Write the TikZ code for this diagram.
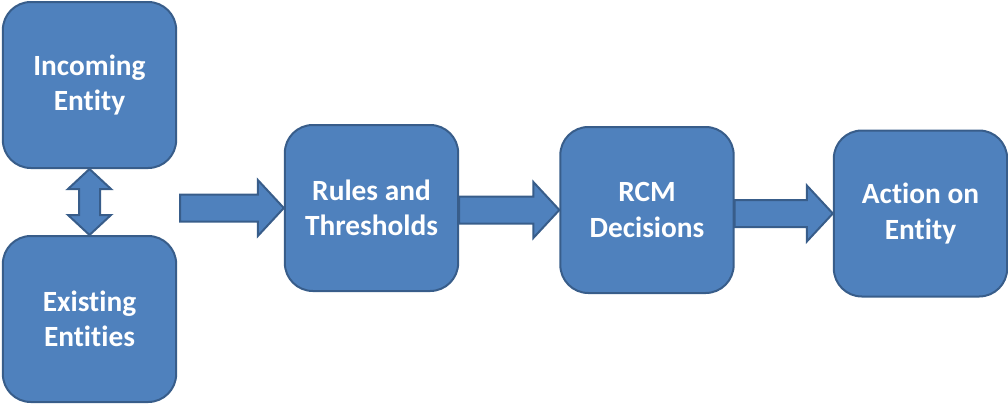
\documentclass[tikz,border=0pt]{standalone}
\usepackage{fontspec}
\setmainfont[Ligatures={NoCommon,NoRequired,NoContextual}]{Carlito}
\usetikzlibrary{calc}

\definecolor{boxfill}{HTML}{4F81BD}
\definecolor{boxline}{HTML}{385D8A}

\newcommand{\flowarrow}[2]{%
	\path[blockarrow] ($(#1)+(0,-13.5)$) -- ($(#2)+(-26,-13.5)$) -- ($(#2)+(-26,-28)$) -- (#2)
		-- ($(#2)+(-26,28)$) -- ($(#2)+(-26,13.5)$) -- ($(#1)+(0,13.5)$) -- cycle;}

\begin{document}
\begin{tikzpicture}[x=0.75pt, y=-0.75pt,
	stagebox/.style={shape=rectangle, rounded corners=21pt, draw=boxline, line width=1.5pt,
		fill=boxfill, text=white, align=center, minimum width=130pt, minimum height=124.5pt,
		font=\fontsize{22}{26.5}\selectfont\bfseries},
	blockarrow/.style={draw=boxline, line width=1.5pt, fill=boxfill, line join=miter}]
	\useasboundingbox (0,0) rectangle (1008,404);

	\node[stagebox] (incoming) at (89.5, 85) {Incoming\\Entity};
	\node[stagebox] (existing) at (89.5, 319) {Existing\\Entities};
	\node[stagebox] (rules) at (371.5, 208) {Rules and\\Thresholds};
	\node[stagebox] (rcm) at (647, 210) {RCM\\Decisions};
	\node[stagebox] (action) at (920.5, 213.5) {Action on\\Entity};
	\coordinate (feed) at (180, 209);

	\path[blockarrow] (incoming.south) -- ($(incoming.south)+(21.5,20)$) -- ($(incoming.south)+(10.5,20)$)
		-- ($(existing.north)+(10.5,-20)$) -- ($(existing.north)+(21.5,-20)$) -- (existing.north)
		-- ($(existing.north)+(-21.5,-20)$) -- ($(existing.north)+(-10.5,-20)$)
		-- ($(incoming.south)+(-10.5,20)$) -- ($(incoming.south)+(-21.5,20)$) -- cycle;
	\flowarrow{feed |- rules.west}{rules.west}
	\flowarrow{rules.east |- rcm.west}{rcm.west}
	\flowarrow{rcm.east |- action.west}{action.west}
\end{tikzpicture}
\end{document}
